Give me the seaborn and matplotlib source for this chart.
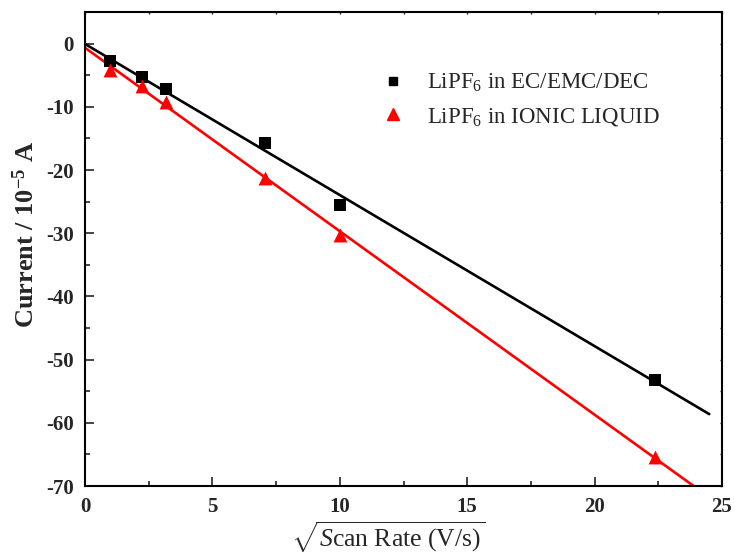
import numpy as np
import pandas as pd
import matplotlib
matplotlib.use("Agg")
import matplotlib.pyplot as plt
from matplotlib.lines import Line2D
from matplotlib.ticker import MultipleLocator
import seaborn as sns

# sqrt(scan rate) values, currents in 1e-5 A
scan_sqrt = [1.0, 2.236, 3.162, 7.071, 10.0, 22.36]
cur_organic = [-2.8, -5.3, -7.2, -15.8, -25.6, -53.2]
cur_ionic = [-4.2, -6.7, -9.2, -21.2, -30.3, -65.4]

LABEL_ORG = "LiPF$_6$ in EC/EMC/DEC"
LABEL_ION = "LiPF$_6$ in IONIC LIQUID"

sns.set_theme(style="ticks")
plt.rcParams["font.family"] = ["Liberation Serif", "DejaVu Serif"]
plt.rcParams["mathtext.fontset"] = "custom"
plt.rcParams["mathtext.rm"] = "Liberation Serif"
plt.rcParams["mathtext.it"] = "Liberation Serif:italic"
plt.rcParams["mathtext.bf"] = "Liberation Serif:bold"
plt.rcParams["axes.unicode_minus"] = False

df = pd.DataFrame({"x": scan_sqrt, "org": cur_organic, "ion": cur_ionic})

# linear fits through the points
k_org, b_org = np.polyfit(df["x"], df["org"], 1)
k_ion, b_ion = np.polyfit(df["x"], df["ion"], 1)
xf = np.array([0.0, 24.5])
fit = pd.DataFrame({"x": xf, "org": k_org * xf + b_org, "ion": k_ion * xf + b_ion})

fig = plt.figure(figsize=(7.35, 5.55), dpi=100)
ax = fig.add_axes([85 / 735, 69 / 555, 637 / 735, 474 / 555])

sns.lineplot(data=fit, x="x", y="org", ax=ax, color="black", lw=1.9, zorder=2)
sns.lineplot(data=fit, x="x", y="ion", ax=ax, color="red", lw=1.9, zorder=2)
sns.scatterplot(data=df, x="x", y="org", ax=ax, marker="s", s=64, color="black",
                edgecolor="black", linewidth=0, zorder=3)
sns.scatterplot(data=df, x="x", y="ion", ax=ax, marker="^", s=100, color="red",
                edgecolor="red", linewidth=0, zorder=3)

ax.set_xlim(0, 25)
ax.set_ylim(-70, 5)
ax.xaxis.set_major_locator(MultipleLocator(5))
ax.xaxis.set_minor_locator(MultipleLocator(2.5))
ax.yaxis.set_major_locator(MultipleLocator(10))
ax.yaxis.set_minor_locator(MultipleLocator(5))
ax.tick_params(which="major", direction="in", length=6.5, width=1.2)
ax.tick_params(which="minor", direction="in", length=3.3, width=1.2)
ax.tick_params(axis="x", which="major", pad=8)
ax.tick_params(axis="y", which="major", pad=8)
for lab in ax.get_xticklabels() + ax.get_yticklabels():
    lab.set_fontsize(15)
    lab.set_fontweight("bold")
for sp in ax.spines.values():
    sp.set_linewidth(1.5)
    sp.set_color("black")

# tiny ticks on top and right
top = ax.secondary_xaxis("top")
top.xaxis.set_major_locator(MultipleLocator(2.5))
top.tick_params(direction="in", length=1.5, width=1, labeltop=False)
right = ax.secondary_yaxis("right")
right.yaxis.set_major_locator(MultipleLocator(5))
right.tick_params(direction="in", length=1.5, width=1, labelright=False)

ax.set_xlabel(r"$\sqrt{S\mathrm{can\ Rate\ (V/s)}}$", fontsize=18.5)
ax.xaxis.set_label_coords(0.476, -0.07)
ax.set_ylabel(r"Current / 10$^{\mathbf{-5}}$ A", fontsize=19, fontweight="bold")
ax.yaxis.set_label_coords(-0.073, 0.53)

handles = [
    Line2D([], [], ls="none", marker="s", ms=6, color="black"),
    Line2D([], [], ls="none", marker="^", ms=8, color="red"),
]
ax.legend(handles, [LABEL_ORG, LABEL_ION], loc="upper left",
          bbox_to_anchor=(0.43, 0.917), frameon=False, fontsize=16.5,
          handletextpad=0.85, labelspacing=0.5, handlelength=1.2)

fig.savefig("out.png", dpi=100)
